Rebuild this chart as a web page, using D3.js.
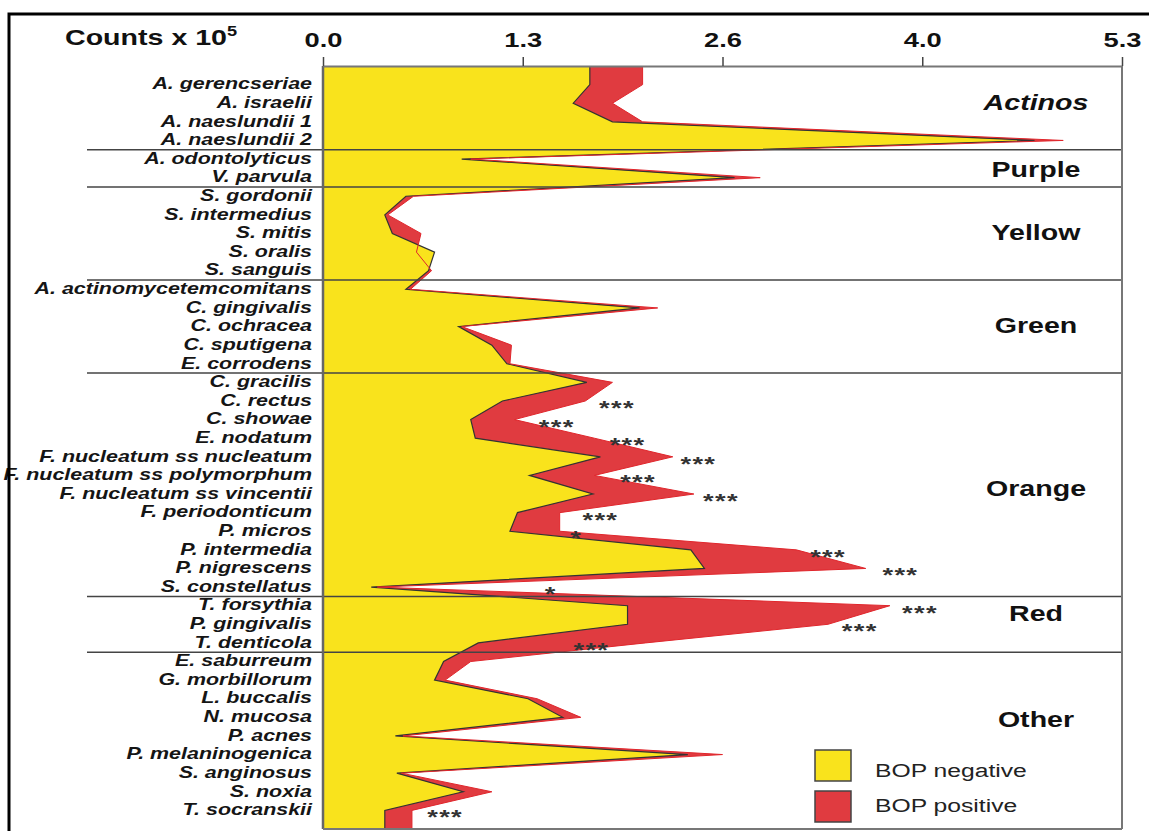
<!DOCTYPE html>
<html>
<head>
<meta charset="utf-8">
<script src="https://cdn.jsdelivr.net/npm/d3@7"></script>
<style>
  body { margin: 0; background: #fff; }
  svg text { font-family: 'Liberation Sans', Arial, Helvetica, sans-serif; fill: #111; }
</style>
</head>
<body>
<div id="chart"></div>
<script>
// species, top to bottom
const species = [
  'A. gerencseriae', 'A. israelii', 'A. naeslundii 1', 'A. naeslundii 2',
  'A. odontolyticus', 'V. parvula',
  'S. gordonii', 'S. intermedius', 'S. mitis', 'S. oralis', 'S. sanguis',
  'A. actinomycetemcomitans', 'C. gingivalis', 'C. ochracea', 'C. sputigena', 'E. corrodens',
  'C. gracilis', 'C. rectus', 'C. showae', 'E. nodatum', 'F. nucleatum ss nucleatum',
  'F. nucleatum ss polymorphum', 'F. nucleatum ss vincentii', 'F. periodonticum', 'P. micros',
  'P. intermedia', 'P. nigrescens', 'S. constellatus',
  'T. forsythia', 'P. gingivalis', 'T. denticola',
  'E. saburreum', 'G. morbillorum', 'L. buccalis', 'N. mucosa', 'P. acnes',
  'P. melaninogenica', 'S. anginosus', 'S. noxia', 'T. socranskii'
]

// mean counts x 10^5
const bopNegative = [1.77, 1.66, 1.92, 4.72, 0.92, 2.73, 0.55, 0.41, 0.46, 0.74,
  0.70, 0.55, 2.10, 0.90, 1.12, 1.22, 1.75, 1.19, 0.98, 1.01,
  1.84, 1.37, 1.79, 1.29, 1.24, 2.44, 2.53, 0.32, 2.02, 2.02,
  1.03, 0.80, 0.74, 1.36, 1.59, 0.48, 2.42, 0.49, 0.93, 0.41]
const bopPositive = [2.12, 1.92, 2.12, 4.91, 0.98, 2.90, 0.60, 0.43, 0.65, 0.62,
  0.72, 0.58, 2.22, 0.92, 1.25, 1.24, 1.92, 1.74, 1.27, 1.80,
  2.32, 1.80, 2.46, 1.57, 1.57, 3.14, 3.60, 0.36, 3.76, 3.35,
  2.14, 0.98, 0.81, 1.42, 1.71, 0.53, 2.65, 0.52, 1.12, 0.59]

// complexes
const groupNames = ['Actinos', 'Purple', 'Yellow', 'Green', 'Orange', 'Red', 'Other']
const groupFirst = [0, 4, 6, 11, 16, 28, 31]
const groupLabelRow = [0.93, 4.53, 7.92, 12.92, 21.68, 28.39, 34.09]

// significance marks
const starSpecies = ['C. rectus', 'C. showae', 'E. nodatum', 'F. nucleatum ss nucleatum',
  'F. nucleatum ss polymorphum', 'F. nucleatum ss vincentii', 'F. periodonticum', 'P. micros',
  'P. intermedia', 'P. nigrescens', 'S. constellatus', 'T. forsythia', 'P. gingivalis',
  'T. denticola', 'T. socranskii']
const starMarks = ['***', '***', '***', '***', '***', '***', '***', '*',
  '***', '***', '*', '***', '***', '***', '***']
const starAt = [1.95, 1.55, 2.02, 2.49, 2.09, 2.64, 1.84, 1.68,
  3.35, 3.83, 1.51, 3.96, 3.56, 1.78, 0.81]

const tickValues = [0, 1.325, 2.65, 3.975, 5.3]
const legendLabels = ['BOP negative', 'BOP positive']

const W = 1149
const H = 831
const plotLeft = 323
const plotRight = 1122
const plotTop = 66
const plotBottom = 829
const stretch = 1.3 // the figure's lettering is wide
const yellow = '#f9e31c'
const red = '#e03b40'

const svg = d3.select('#chart').append('svg')
  .attr('width', W)
  .attr('height', H)

const x = d3.scaleLinear().domain([0, 5.3]).range([plotLeft, plotRight])
const y = d3.scaleLinear().domain([-1, species.length]).range([plotTop, plotBottom])

// helper for wide text
function wideText (g, tx, ty, str, size, anchor) {
  return g.append('text')
    .attr('transform', `translate(${tx},${ty}) scale(${stretch},1)`)
    .attr('text-anchor', anchor)
    .style('font-size', size + 'px')
    .text(str)
}

// profile points, extended to the top and bottom edges
function profile (vals) {
  const n = vals.length
  const pts = vals.map((v, i) => ({ i: i, v: v }))
  return [{ i: -1, v: vals[0] }].concat(pts, [{ i: n, v: vals[n - 1] }])
}
const negPts = profile(bopNegative)
const posPts = profile(bopPositive)

const area = d3.area()
  .x0(x(0))
  .x1(d => x(d.v))
  .y(d => y(d.i))
const edge = d3.line()
  .x(d => x(d.v))
  .y(d => y(d.i))

svg.append('path').datum(posPts)
  .attr('d', area)
  .style('fill', red)
svg.append('path').datum(negPts)
  .attr('d', area)
  .style('fill', yellow)
svg.append('path').datum(negPts)
  .attr('d', edge)
  .style('fill', 'none')
  .style('stroke', '#333')
  .style('stroke-width', 1.2)
svg.append('path').datum(posPts)
  .attr('d', edge)
  .style('fill', 'none')
  .style('stroke', '#e0262c')
  .style('stroke-width', 1)

// group separators
svg.selectAll('line.sep')
  .data(groupFirst.slice(1))
  .enter()
  .append('line')
  .attr('class', 'sep')
  .attr('x1', 87)
  .attr('x2', plotRight)
  .attr('y1', d => y(d - 0.5))
  .attr('y2', d => y(d - 0.5))
  .style('stroke', '#444')
  .style('stroke-width', 1.5)

// plot frame
svg.append('line')
  .attr('x1', plotLeft).attr('x2', plotLeft).attr('y1', plotTop).attr('y2', plotBottom)
  .style('stroke', '#666').style('stroke-width', 2.5)
svg.append('line')
  .attr('x1', plotRight).attr('x2', plotRight).attr('y1', plotTop).attr('y2', plotBottom)
  .style('stroke', '#777').style('stroke-width', 2)
svg.append('line')
  .attr('x1', plotLeft).attr('x2', plotRight).attr('y1', plotBottom).attr('y2', plotBottom)
  .style('stroke', '#777').style('stroke-width', 2)

// top axis
const axis = svg.append('g')
  .attr('transform', `translate(0,${plotTop})`)
  .call(d3.axisTop(x).tickValues(tickValues).tickFormat(d3.format('.1f')).tickSize(9).tickSizeOuter(0))
axis.select('.domain').style('stroke', '#777').style('stroke-width', 2)
axis.selectAll('.tick line').style('stroke', '#444').style('stroke-width', 1.5)
axis.selectAll('.tick text')
  .attr('y', null)
  .attr('dy', null)
  .attr('transform', `translate(0,-19) scale(${stretch},1)`)
  .style('font-size', '21px')
  .style('font-weight', 'bold')
  .style('fill', '#111')

const title = wideText(svg, 65, 45, 'Counts x 10', 22, 'start')
  .style('font-weight', 'bold')
title.append('tspan')
  .attr('dy', -9)
  .style('font-size', '14px')
  .text('5')

// species labels
svg.selectAll('text.sp')
  .data(species)
  .enter()
  .append('text')
  .attr('class', 'sp')
  .attr('transform', (d, i) => `translate(312,${y(i) - 1}) scale(1.34,1)`)
  .attr('text-anchor', 'end')
  .attr('dy', '0.36em')
  .style('font-size', '16px')
  .style('font-weight', 'bold')
  .style('font-style', 'italic')
  .style('fill', '#151515')
  .text(d => d)

// complex labels
groupNames.forEach((name, k) => {
  wideText(svg, 1036, y(groupLabelRow[k]), name, 22, 'middle')
    .attr('dy', '0.36em')
    .style('font-weight', 'bold')
    .style('font-style', k === 0 ? 'italic' : 'normal')
})

// stars
starSpecies.forEach((s, k) => {
  const row = species.indexOf(s)
  wideText(svg, x(starAt[k]), y(row) + 14, starMarks[k], 21, 'middle')
    .style('font-weight', 'bold')
    .style('letter-spacing', '1px')
    .style('fill', '#333')
})

// legend
const legend = svg.append('g')
legendLabels.forEach((lab, k) => {
  legend.append('rect')
    .attr('x', 815)
    .attr('y', 750 + k * 41)
    .attr('width', 36)
    .attr('height', 31)
    .style('fill', k === 0 ? yellow : red)
    .style('stroke', '#444')
    .style('stroke-width', 1.5)
  wideText(legend, 875, 777 + k * 35, lab, 19, 'start')
    .style('fill', '#222')
})

// outer frame
svg.append('path')
  .attr('d', `M9,${H} L9,14 L${W},14`)
  .style('fill', 'none')
  .style('stroke', '#000')
  .style('stroke-width', 3)
</script>
</body>
</html>
